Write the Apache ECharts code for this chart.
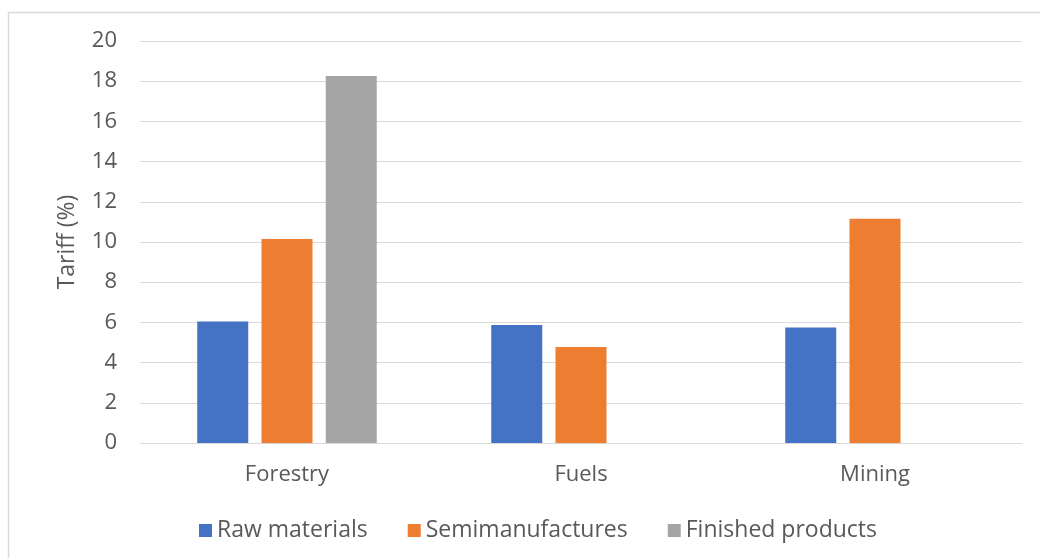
<!DOCTYPE html>
<html lang="en">
<head>
    <meta charset="UTF-8">
    <title>Tariff chart</title>
    <script src="https://cdn.jsdelivr.net/npm/echarts@6/dist/echarts.min.js"></script>
    <style>
        body { margin: 0; padding: 0; background: #fff; }
        #main { width: 1040px; height: 558px; }
    </style>
</head>
<body>
    <div id="main"></div>
    <script>
        // data
        var sectors = ['Forestry', 'Fuels', 'Mining'];
        var rawMaterials = [6.05, 5.87, 5.75];
        var semimanufactures = [10.15, 4.78, 11.16];
        var finishedProducts = [18.26, null, null];
        var yTicks = [0, 20, 2]; // min, max, step

        var font = '"Open Sans", "Noto Sans", sans-serif';
        var txt = '#595959';

        var chart = echarts.init(document.getElementById('main'));

        chart.setOption({
            backgroundColor: '#fff',
            animation: false,
            textStyle: { fontFamily: font },
            graphic: [{
                type: 'rect',
                shape: { x: 8.5, y: 12.5, width: 1100, height: 700 },
                style: { fill: 'none', stroke: '#d9d9d9', lineWidth: 1.5 },
                silent: true
            }],
            grid: { left: 140, right: 18, top: 41, bottom: 115 },
            legend: {
                bottom: 11,
                left: 194,
                itemWidth: 13,
                itemHeight: 13,
                itemGap: 40,
                icon: 'rect',
                textStyle: { color: txt, fontSize: 23, fontFamily: font },
                data: ['Raw materials', 'Semimanufactures', 'Finished products']
            },
            xAxis: {
                type: 'category',
                data: sectors,
                axisLine: { lineStyle: { color: '#d9d9d9', width: 1 } },
                axisTick: { show: false },
                axisLabel: { color: txt, fontSize: 22, margin: 21, fontFamily: font }
            },
            yAxis: {
                type: 'value',
                min: yTicks[0],
                max: yTicks[1],
                interval: yTicks[2],
                name: 'Tariff (%)',
                nameLocation: 'middle',
                nameGap: 61,
                nameTextStyle: { color: txt, fontSize: 23, fontFamily: font },
                axisLine: { show: false },
                axisTick: { show: false },
                axisLabel: { color: txt, fontSize: 22, margin: 23, fontFamily: font },
                splitLine: { lineStyle: { color: '#d9d9d9', width: 1 } }
            },
            series: [{
                name: 'Raw materials',
                type: 'bar',
                barWidth: 51,
                barGap: '26%',
                itemStyle: { color: '#4472C4' },
                data: rawMaterials
            }, {
                name: 'Semimanufactures',
                type: 'bar',
                barWidth: 51,
                barGap: '26%',
                itemStyle: { color: '#ED7D31' },
                data: semimanufactures
            }, {
                name: 'Finished products',
                type: 'bar',
                barWidth: 51,
                barGap: '26%',
                itemStyle: { color: '#A5A5A5' },
                data: finishedProducts
            }]
        });
    </script>
</body>
</html>
